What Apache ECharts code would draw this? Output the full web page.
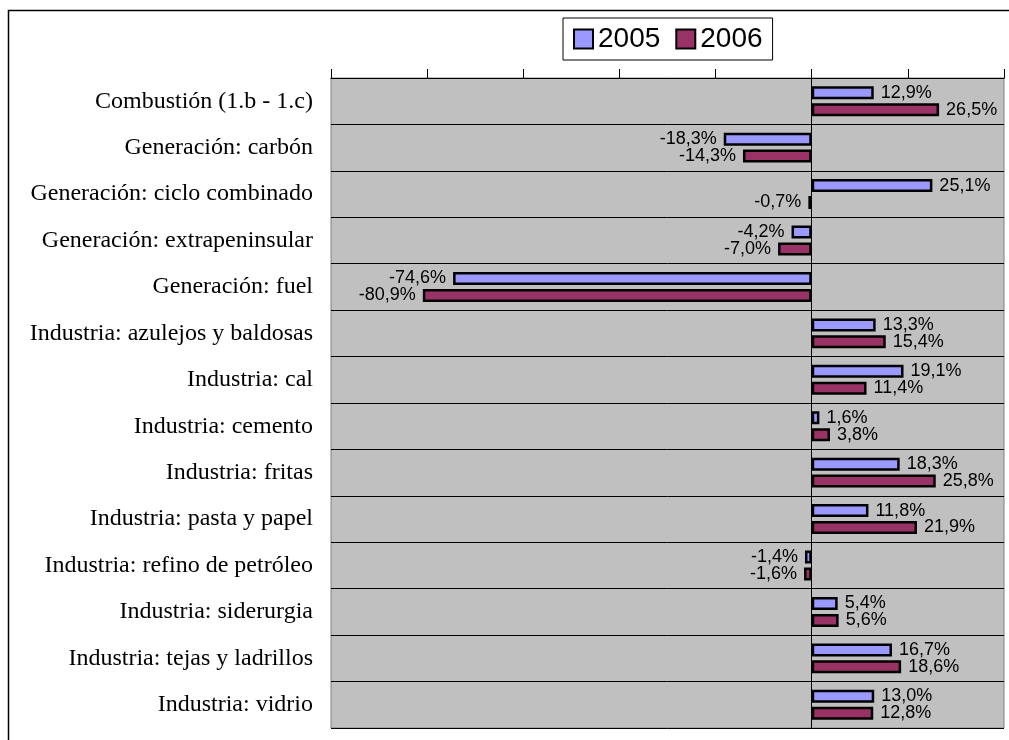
<!DOCTYPE html>
<html>
<head>
<meta charset="utf-8">
<script src="https://cdn.jsdelivr.net/npm/echarts@6/dist/echarts.min.js"></script>
<style>
html,body{margin:0;padding:0;background:#fff;}
#chart{width:1009px;height:740px;}
</style>
</head>
<body>
<div id="chart"></div>
<script>
const categories = [
  'Combustión (1.b - 1.c)',
  'Generación: carbón',
  'Generación: ciclo combinado',
  'Generación: extrapeninsular',
  'Generación: fuel',
  'Industria: azulejos y baldosas',
  'Industria: cal',
  'Industria: cemento',
  'Industria: fritas',
  'Industria: pasta y papel',
  'Industria: refino de petróleo',
  'Industria: siderurgia',
  'Industria: tejas y ladrillos',
  'Industria: vidrio'
];
const values2005 = [12.9, -18.3, 25.1, -4.2, -74.6, 13.3, 19.1, 1.6, 18.3, 11.8, -1.4, 5.4, 16.7, 13.0];
const values2006 = [26.5, -14.3, -0.7, -7.0, -80.9, 15.4, 11.4, 3.8, 25.8, 21.9, -1.6, 5.6, 18.6, 12.8];
const seriesNames = ['2005', '2006'];

function fmt(v) { return v.toFixed(1).replace('.', ',') + '%'; }
function toData(arr) {
  return arr.map(v => ({ value: v, label: { position: v < 0 ? 'left' : 'right' } }));
}

const chart = echarts.init(document.getElementById('chart'), null, { renderer: 'canvas' });
const labelStyle = {
  show: true,
  distance: 7,
  color: '#000',
  fontFamily: 'Liberation Sans',
  fontSize: 18,
  formatter: p => fmt(p.value)
};
chart.setOption({
  animation: false,
  backgroundColor: '#fff',
  graphic: [{
    type: 'rect',
    shape: { x: 8.5, y: 10.5, width: 1020, height: 760 },
    style: { fill: 'none', stroke: '#000', lineWidth: 1.5 },
    z: 0
  }],
  legend: {
    left: 563, top: 18,
    padding: [7, 10],
    icon: 'rect',
    itemWidth: 19, itemHeight: 19, itemGap: 15,
    backgroundColor: '#fff',
    borderColor: '#000', borderWidth: 1,
    textStyle: { fontFamily: 'Liberation Sans', fontSize: 28, color: '#000' },
    data: seriesNames
  },
  grid: {
    left: 331, right: 5, top: 78, bottom: 12,
    show: true, backgroundColor: '#c0c0c0', borderColor: '#808080', borderWidth: 1
  },
  xAxis: {
    type: 'value', position: 'top',
    min: -100, max: 40, interval: 20,
    axisLine: { show: true, lineStyle: { color: '#000', width: 1 } },
    axisTick: { show: true, length: 9, lineStyle: { color: '#000' } },
    axisLabel: { show: false },
    splitLine: { show: false }
  },
  yAxis: [{
    type: 'category', data: categories, inverse: true, position: 'left',
    axisLine: { show: false, onZero: false },
    axisTick: { show: false },
    axisLabel: { margin: 18, color: '#000', fontFamily: 'Liberation Serif', fontSize: 24 },
    splitLine: { show: false }
  }, {
    type: 'category', data: categories, inverse: true, position: 'left',
    axisLine: { show: true, onZero: true, lineStyle: { color: '#000', width: 1 } },
    axisTick: { show: true, length: 7, lineStyle: { color: '#000' } },
    axisLabel: { show: false },
    splitLine: { show: true, lineStyle: { color: '#000', width: 1 } }
  }],
  series: [{
    name: seriesNames[0], type: 'bar', yAxisIndex: 0,
    data: toData(values2005),
    barWidth: 13, barGap: '30%',
    itemStyle: { color: '#9999ff', borderColor: '#000', borderWidth: 2.5 },
    label: labelStyle
  }, {
    name: seriesNames[1], type: 'bar', yAxisIndex: 0,
    data: toData(values2006),
    barWidth: 13, barGap: '30%',
    itemStyle: { color: '#993366', borderColor: '#000', borderWidth: 2.5 },
    label: labelStyle
  }]
});
</script>
</body>
</html>
